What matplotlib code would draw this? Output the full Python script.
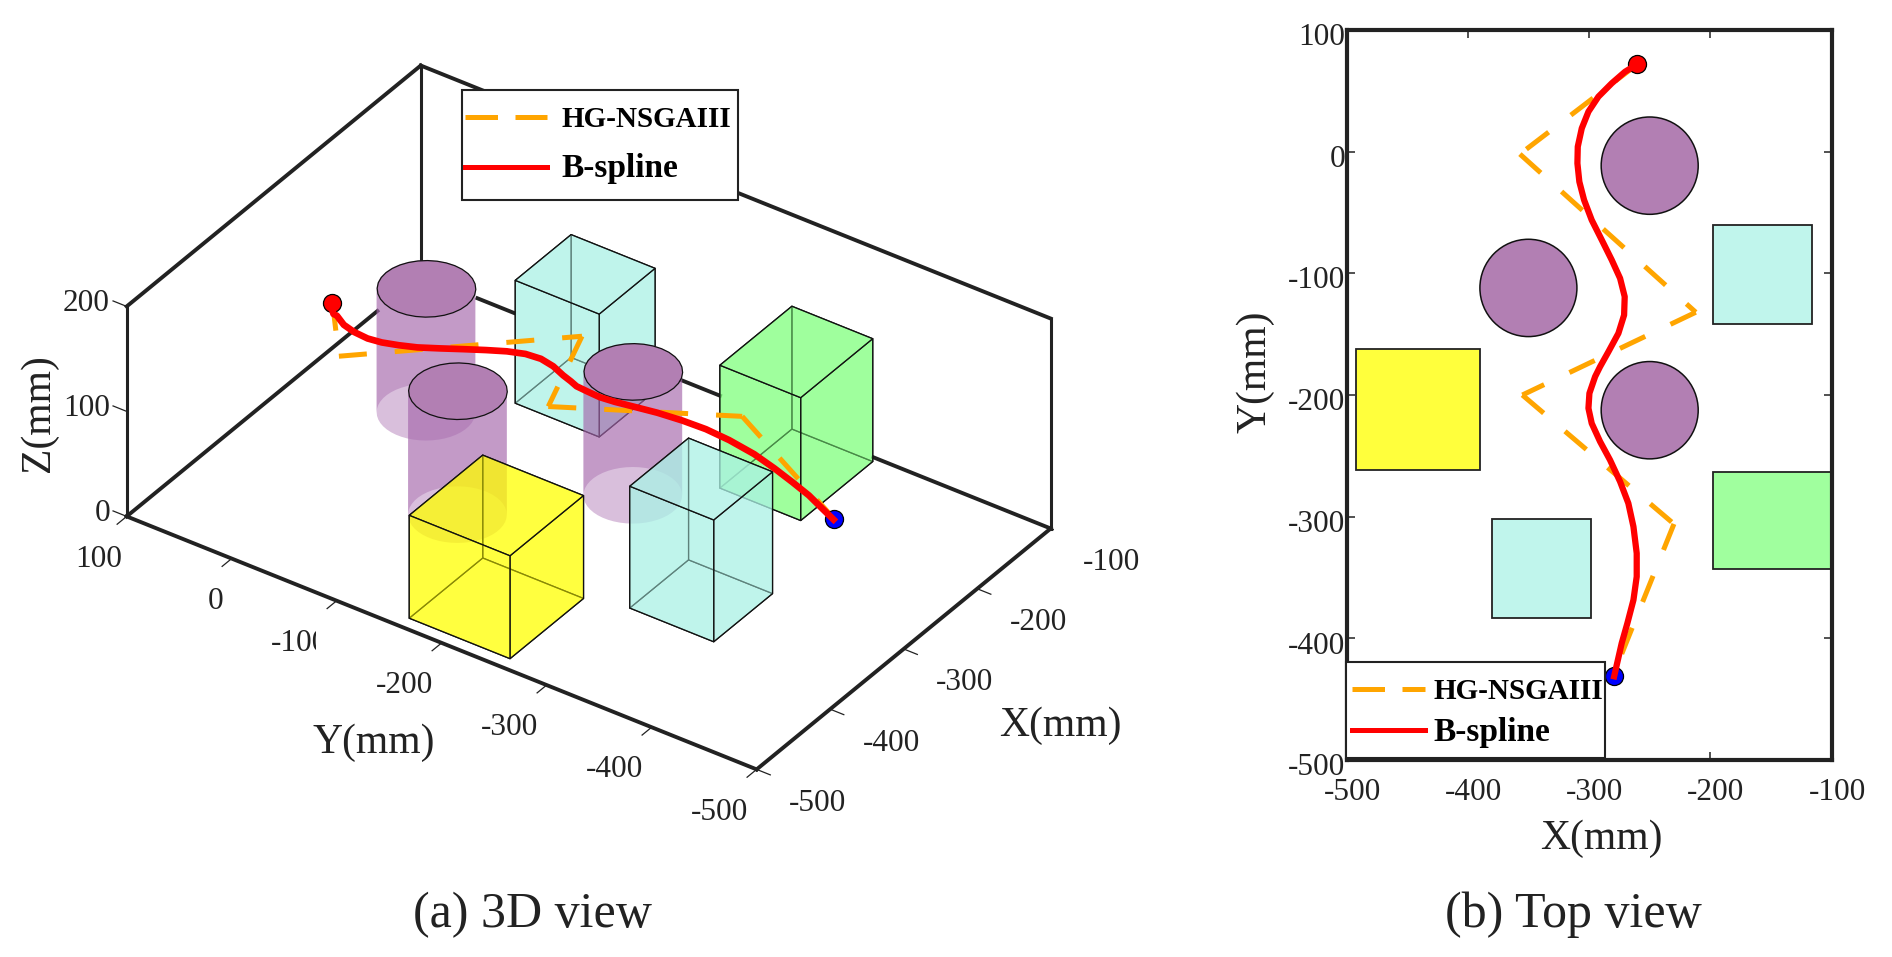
import numpy as np
import matplotlib
matplotlib.use("Agg")
import matplotlib.pyplot as plt
from matplotlib.lines import Line2D
from matplotlib.patches import Circle, Rectangle
from matplotlib.transforms import Bbox, ScaledTranslation, TransformedBbox
from mpl_toolkits.mplot3d import proj3d
from mpl_toolkits.mplot3d.art3d import Poly3DCollection

plt.rcParams['font.family'] = ['Liberation Serif', 'DejaVu Serif']
plt.rcParams['axes.unicode_minus'] = False

W, H = 1892, 957
INK = '#222222'

# obstacles as they appear in the 3D view: cyan, green, cyan, yellow
cube_x = [(-200, -124), (-203, -105), (-377, -297), (-487, -387)]
cube_y = [(-140, -60), (-334, -257), (-373, -293), (-256, -160)]
cube_h = [117, 117, 116, 98]
cube_colors = ['#abf2e6', '#80ff7e', '#abf2e6', '#ffff00']

# the same obstacles as they appear in the top view
top_x = [(-198, -116), (-198, -100), (-380, -298), (-492, -390)]
top_y = [(-141.5, -60), (-343, -263), (-383, -302), (-262, -162)]
top_colors = ['#c0f5ec', '#a0ff9e', '#c0f5ec', '#ffff3c']

cyl_x = [-250, -250, -350]
cyl_y = [-10, -207, -110]
cyl_r = 38.5
cyl_h = 118
top_cyl_y = [-11.5, -212.5, -112]
top_cyl_r = 40

# HG-NSGAIII path, top view
hg_x = [-260, -357, -212, -355, -230, -280]
hg_y = [72, -2, -132, -200, -306, -430]
# HG-NSGAIII path, 3D view
hg3d_x = [-260, -357, -212, -355, -242.6, -293.6]
hg3d_y = [72, -2, -132, -200, -306, -430]
hg3d_z = [77, 111.5, 99.6, 142, 110.7, 91.3]

# B-spline path, top view
bs_x = [-260.1, -270.3, -281.3, -292.3, -300.5, -306, -309.3, -309.6, -308, -304.1, -297.8, -289.5,
        -281.3, -274.4, -270.6, -271.1, -275.8, -284, -290.9, -295, -299.7, -300.5, -297.8, -290.9,
        -282.7, -274.4, -267.6, -263.4, -260.7, -260.7, -263.4, -268.4, -273.1, -279.3]
bs_y = [72, 65.7, 56.2, 45.2, 32.9, 19.2, 4.1, -9.6, -24.7, -39.7, -56.2, -72.6,
        -89, -104.1, -119.2, -134.3, -149.3, -164.4, -176.7, -184.9, -198.6, -210.9, -223.3, -238.3,
        -253.4, -271.2, -289, -308.2, -330.1, -349.3, -368.5, -387.6, -404.1, -431.2]
# B-spline path, 3D view (the end point sits a little off the top view position)
bs3d_x = bs_x[:-1] + [-293.6]
bs3d_y = bs_y[:-1] + [-428.7]
bs3d_z = [77, 81, 85, 94, 95, 96.8, 98.6, 100.5, 103, 104.7, 106.8, 107.9,
          108.9, 109.8, 111.2, 112.9, 114.5, 116.7, 119.8, 120.8, 124, 124, 123, 120,
          116, 111, 106, 100.9, 94.8, 89, 85, 83, 79.3, 91]

x_ticks = [-500, -400, -300, -200, -100]
y_ticks = [-500, -400, -300, -200, -100, 0, 100]
z_ticks = [0, 100, 200]


def fx(px):
    return px / W


def fy(py):
    return 1 - py / H


def screen(ax, x, y, z):
    xs, ys, _ = proj3d.proj_transform(x, y, z, ax.get_proj())
    return ax.transData.transform((xs, ys))


def label3d(fig, ax, x, y, z, text, **kw):
    # plain figure text placed at the projected position of a 3D point
    px, py = screen(ax, x, y, z)
    return fig.text(px / W, py / H, text, fontsize=22.5, color=INK, va='center', **kw)


def add_cube(ax, xr, yr, h, color, zorder):
    x0, x1 = xr
    y0, y1 = yr
    faces = [
        [(x0, y0, 0), (x1, y0, 0), (x1, y1, 0), (x0, y1, 0)],
        [(x0, y0, h), (x1, y0, h), (x1, y1, h), (x0, y1, h)],
        [(x0, y0, 0), (x1, y0, 0), (x1, y0, h), (x0, y0, h)],
        [(x0, y1, 0), (x1, y1, 0), (x1, y1, h), (x0, y1, h)],
        [(x0, y0, 0), (x0, y1, 0), (x0, y1, h), (x0, y0, h)],
        [(x1, y0, 0), (x1, y1, 0), (x1, y1, h), (x1, y0, h)],
    ]
    poly = Poly3DCollection(faces, facecolors=matplotlib.colors.to_rgba(color, 0.5),
                            edgecolors='#111111', linewidths=0.9, zorder=zorder)
    ax.add_collection3d(poly, autolim=False)


def add_cylinder(ax, cx, cy, r, h, zorder):
    # camera looks from azim -145, so the silhouette splits at 125 and 305 deg
    front = np.radians(np.linspace(125, 305, 25))
    back = front + np.pi
    sides = []
    for t in (back, front):
        top = [(cx + r * np.cos(a), cy + r * np.sin(a), h) for a in t]
        bottom = [(cx + r * np.cos(a), cy + r * np.sin(a), 0) for a in t[::-1]]
        sides.append(top + bottom)
    body = Poly3DCollection(sides, facecolors=matplotlib.colors.to_rgba('#a567ac', 0.42),
                            edgecolors='none', linewidths=0, zorder=zorder)
    ax.add_collection3d(body, autolim=False)
    ring = np.radians(np.linspace(0, 360, 33))[:-1]
    cap = [[(cx + r * np.cos(a), cy + r * np.sin(a), h) for a in ring]]
    lid = Poly3DCollection(cap, facecolors='#b27fb3', edgecolors='#111111', linewidths=0.9,
                           zorder=zorder + 0.1)
    ax.add_collection3d(lid, autolim=False)


def legend_box(fig, left, top, right, bottom):
    fig.add_artist(Rectangle((fx(left), fy(bottom)), (right - left) / W, (bottom - top) / H,
                             transform=fig.transFigure, fc='white', ec=INK, lw=1.5, zorder=4))


def add_legend(fig, left, top, handlelength, textpad, spacing):
    leg = fig.legend(handles=[Line2D([], [], color='orange', lw=3.6, dashes=(6.5, 3.5)),
                              Line2D([], [], color='red', lw=3.6)],
                     labels=['HG-NSGAIII', 'B-spline'], loc='upper left',
                     bbox_to_anchor=(fx(left), fy(top)), frameon=False, borderpad=0, borderaxespad=0,
                     prop={'weight': 'bold', 'size': 21}, handlelength=handlelength,
                     handletextpad=textpad, labelspacing=spacing, labelcolor='black')
    leg.get_texts()[1].set_fontsize(24)


fig = plt.figure(figsize=(W / 100, H / 100), dpi=100)

# ---------- (a) 3D view ----------
ax = fig.add_axes([fx(90), 0, H / W, 1], projection='3d', proj_type='ortho')
ax.computed_zorder = False
ax.patch.set_facecolor('none')
ax.set_axis_off()
ax.view_init(elev=35, azim=-145)
ax.set_xlim(-500, -100, view_margin=0)
ax.set_ylim(-500, 100, view_margin=0)
ax.set_zlim(0, 200, view_margin=0)

# scale and shift the box so its floor corners land where they should
ax.set_box_aspect((400, 600, 200), zoom=1)
fig.canvas.draw()
left_c = screen(ax, -500, 100, 0)
right_c = screen(ax, -100, -500, 0)
ax.set_box_aspect((400, 600, 200), zoom=924.0 / (right_c[0] - left_c[0]))
fig.canvas.draw()
left_c = screen(ax, -500, 100, 0)
pos = ax.get_position()
ax.set_position([pos.x0 + (126.7 - left_c[0]) / W, pos.y0 + ((H - 516.4) - left_c[1]) / H,
                 pos.width, pos.height])
fig.canvas.draw()

# box outline; the two back floor edges only show where nothing stands in front of them
edges = [
    ((-500, 100, 0), (-500, -500, 0)),
    ((-500, -500, 0), (-100, -500, 0)),
    ((-500, 100, 0), (-159, 100, 0)),
    ((-100, 46, 0), (-100, 11.5, 0)),
    ((-100, -147, 0), (-100, -185, 0)),
    ((-100, -331, 0), (-100, -500, 0)),
    ((-500, 100, 200), (-100, 100, 200)),
    ((-100, 100, 200), (-100, -500, 200)),
]
for a, b in edges:
    ax.plot(*zip(a, b), color=INK, lw=2.8, zorder=1)
for a, b in [((-500, 100, 0), (-500, 100, 200)), ((-100, 100, 0), (-100, 100, 200)),
             ((-100, -500, 0), (-100, -500, 200))]:
    ax.plot(*zip(a, b), color=INK, lw=2.2, zorder=1)

# ticks
for v in y_ticks:
    ax.plot([-500, -513], [v, v], [0, 0], color=INK, lw=0.9, zorder=1)
for v in x_ticks:
    ax.plot([v, v], [-500, -513], [0, 0], color=INK, lw=0.9, zorder=1)
for v in z_ticks:
    ax.plot([-500, -500], [100, 113], [v, v], color=INK, lw=0.9, zorder=1)

# tick labels
for v in y_ticks:
    off_x, off_z = (-506, -38) if v == 100 else (-511.5, -34)
    t = label3d(fig, ax, off_x, v, off_z, str(v), ha='right')
    if v == -100:
        # the source clips this one label on its right side
        t.set_clip_box(TransformedBbox(Bbox([[0, 0], [316 / W, 1]]), fig.transFigure))
        t.set_clip_on(True)
for v in x_ticks:
    label3d(fig, ax, v, -558, -9, str(v), ha='center')
for v in z_ticks:
    label3d(fig, ax, -500, 116, v - 4, str(v), ha='right')

# obstacles, far to near
add_cube(ax, cube_x[0], cube_y[0], cube_h[0], cube_colors[0], 2)
add_cylinder(ax, cyl_x[0], cyl_y[0], cyl_r, cyl_h, 3)
add_cube(ax, cube_x[1], cube_y[1], cube_h[1], cube_colors[1], 4)
add_cylinder(ax, cyl_x[1], cyl_y[1], cyl_r, cyl_h, 5)
add_cylinder(ax, cyl_x[2], cyl_y[2], cyl_r, cyl_h, 6)
add_cube(ax, cube_x[2], cube_y[2], cube_h[2], cube_colors[2], 7)
add_cube(ax, cube_x[3], cube_y[3], cube_h[3], cube_colors[3], 8)

# the dash pattern restarts at every waypoint
for i in range(len(hg3d_x) - 1):
    ax.plot(hg3d_x[i:i + 2], hg3d_y[i:i + 2], hg3d_z[i:i + 2], color='orange', lw=3.6,
            dashes=(5.6, 5.6), zorder=10)
ax.plot(bs3d_x[:1], bs3d_y[:1], bs3d_z[:1], 'o', ms=13, mfc='red', mec='black', mew=0.9, zorder=11)
ax.plot(bs3d_x[-1:], bs3d_y[-1:], bs3d_z[-1:], 'o', ms=13, mfc='blue', mec='black', mew=0.9, zorder=11)
ax.plot(bs3d_x, bs3d_y, bs3d_z, color='red', lw=4.8, zorder=12, solid_joinstyle='round')

fig.text(fx(38.6), fy(412.7), 'Z(mm)', fontsize=30, color=INK, rotation=90, ha='center', va='center')
fig.text(fx(374), fy(743), 'Y(mm)', fontsize=30, color=INK, ha='center', va='center')
fig.text(fx(1060.6), fy(726), 'X(mm)', fontsize=30, color=INK, ha='center', va='center')
fig.text(fx(532), fy(914.5), '(a) 3D view', fontsize=36, color=INK, ha='center', va='center')

legend_box(fig, 462, 90, 738, 200)
add_legend(fig, 465, 106, 2.8, 0.5, 0.7)

# ---------- (b) Top view ----------
top = fig.add_axes([fx(1346.5), fy(760), (1831.6 - 1346.5) / W, 730 / H])
for i in range(len(top_x)):
    x0, x1 = top_x[i]
    y0, y1 = top_y[i]
    top.add_patch(Rectangle((x0, y0), x1 - x0, y1 - y0, fc=top_colors[i], ec=INK, lw=1.3, zorder=2))
for cx, cy in zip(cyl_x, top_cyl_y):
    top.add_patch(Circle((cx, cy), top_cyl_r, fc='#b27fb3', ec='#111111', lw=1.1, zorder=2))
for i in range(len(hg_x) - 1):
    top.plot(hg_x[i:i + 2], hg_y[i:i + 2], color='orange', lw=3.6, dashes=(5.6, 5.6), zorder=3)
top.plot(bs_x[:1], bs_y[:1], 'o', ms=13, mfc='red', mec='black', mew=0.9, zorder=4)
top.plot(bs_x[-1:], bs_y[-1:], 'o', ms=13, mfc='blue', mec='black', mew=0.9, zorder=4, clip_on=False)
top.plot(bs_x, bs_y, color='red', lw=4.5, zorder=5, solid_joinstyle='round')

top.set_xlim(-500, -100)
top.set_ylim(-500, 100)
top.set_xticks(x_ticks)
top.set_yticks(y_ticks)
top.tick_params(direction='in', length=6, width=1.1, color=INK, labelsize=22.5, labelcolor=INK,
                top=True, right=True)
top.tick_params(axis='x', pad=13)
top.tick_params(axis='y', pad=1)
for lab in top.get_yticklabels():
    lab.set_transform(lab.get_transform() + ScaledTranslation(0, -3 / 72, fig.dpi_scale_trans))
for lab in top.get_xticklabels():
    lab.set_transform(lab.get_transform() + ScaledTranslation(4 / 72, 0, fig.dpi_scale_trans))
for s in top.spines.values():
    s.set_linewidth(3)
    s.set_color(INK)

fig.text(fx(1601), fy(839), 'X(mm)', fontsize=30, color=INK, ha='center', va='center')
fig.text(fx(1255), fy(371.6), 'Y(mm)', fontsize=30, color=INK, rotation=90, ha='center', va='center')
fig.text(fx(1573.4), fy(914.5), '(b) Top view', fontsize=36, color=INK, ha='center', va='center')

legend_box(fig, 1346, 662, 1605, 758)
add_legend(fig, 1352, 678, 2.5, 0.3, 0.4)

fig.savefig('out.png', dpi=100)
